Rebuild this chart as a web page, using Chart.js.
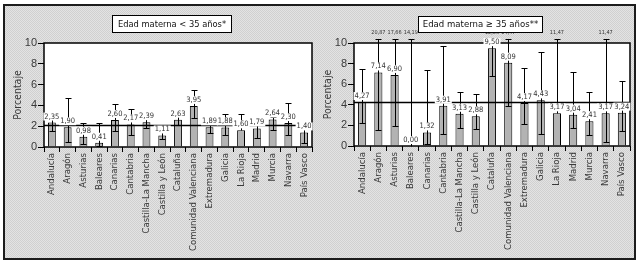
<!DOCTYPE html>
<html>
<head>
<meta charset="utf-8">
<script src="https://cdn.jsdelivr.net/npm/chart.js@4"></script>
<style>
  body { margin: 0; width: 638px; height: 262px; background: #fff; position: relative; overflow: hidden; }
  #frame {
    position: absolute; left: 3px; top: 4px; width: 633px; height: 256px; box-sizing: border-box;
    border: 2px solid #1c1c1c;
    background-color: #d9d9d9;
    background-image: repeating-conic-gradient(#d0d0d0 0 25%, #e3e3e3 0 50%);
    background-size: 2px 2px;
  }
  canvas { position: absolute; top: 0; }
  #left { left: 0; }
  #right { left: 318px; }
</style>
</head>
<body>
<div id="frame"></div>
<canvas id="left" width="318" height="262"></canvas>
<canvas id="right" width="320" height="262"></canvas>
<script>
const regiones = ['Andalucía', 'Aragón', 'Asturias', 'Baleares', 'Canarias', 'Cantabria', 'Castilla-La Mancha',
  'Castilla y León', 'Cataluña', 'Comunidad Valenciana', 'Extremadura', 'Galicia', 'La Rioja', 'Madrid',
  'Murcia', 'Navarra', 'País Vasco'];

// Edad materna < 35 años: porcentaje e intervalo de confianza
const menor35 = [2.35, 1.90, 0.98, 0.41, 2.60, 2.17, 2.39, 1.11, 2.63, 3.95, 1.89, 1.88, 1.60, 1.79, 2.64, 2.30, 1.40];
const menor35Inf = [1.55, 0.48, 0.33, 0.07, 1.52, 1.20, 1.84, 0.74, 2.16, 2.80, 1.35, 1.20, 1.60, 0.87, 1.68, 1.13, 0.39];
const menor35Sup = [3.13, 4.68, 2.26, 2.26, 4.10, 3.61, 2.74, 1.68, 3.29, 5.45, 2.74, 3.13, 3.13, 2.10, 2.90, 4.25, 1.90];
const menor35Media = 2.1;

// Edad materna >= 35 años
const mayor35 = [4.27, 7.14, 6.90, 0.00, 1.32, 3.91, 3.13, 2.88, 9.50, 8.09, 4.17, 4.43, 3.17, 3.04, 2.41, 3.17, 3.24];
const mayor35Inf = [2.28, 1.53, 1.92, 0.00, 0.17, 1.21, 1.70, 1.63, 6.80, 3.88, 2.12, 1.21, 3.17, 1.70, 1.05, 0.39, 1.43];
const mayor35Sup = [7.49, 20.87, 17.66, 14.19, 7.39, 9.67, 5.27, 5.02, 12.06, 14.47, 7.62, 9.12, 11.47, 7.23, 5.27, 11.47, 6.35];
const mayor35Media = 4.23;

const yTicks = [0, 2, 4, 6, 8, 10];

const fmt = v => v.toFixed(2).replace('.', ',');
const narrow = "'DejaVu Sans Condensed', 'Liberation Sans', sans-serif";

const extras = {
  id: 'extras',
  beforeDraw(chart) {
    const a = chart.chartArea, ctx = chart.ctx;
    ctx.save();
    ctx.fillStyle = '#fff';
    ctx.fillRect(a.left, a.top, a.right - a.left, a.bottom - a.top);
    ctx.restore();
  },
  afterDatasetsDraw(chart, args, o) {
    const ctx = chart.ctx, a = chart.chartArea, y = chart.scales.y;
    const meta = chart.getDatasetMeta(0);
    const vals = chart.data.datasets[0].data;
    ctx.save();

    // error bars
    ctx.strokeStyle = '#000';
    ctx.lineWidth = 1;
    meta.data.forEach((bar, i) => {
      const x = Math.round(bar.x) + 0.5;
      const yt = Math.round(y.getPixelForValue(Math.min(o.sup[i], 10.35))) + 0.5;
      const yb = Math.round(y.getPixelForValue(o.inf[i])) + 0.5;
      ctx.beginPath();
      ctx.moveTo(x, yt); ctx.lineTo(x, yb);
      ctx.moveTo(x - 3, yt); ctx.lineTo(x + 3, yt);
      if (o.inf[i] < vals[i]) { ctx.moveTo(x - 3, yb); ctx.lineTo(x + 3, yb); }
      ctx.stroke();
    });

    // reference line
    const yr = Math.round(y.getPixelForValue(o.media)) + 0.5;
    ctx.lineWidth = 1.3;
    ctx.beginPath(); ctx.moveTo(a.left, yr); ctx.lineTo(a.right, yr); ctx.stroke();

    // frame
    ctx.lineWidth = 1.5;
    ctx.strokeRect(a.left, a.top, a.right - a.left, a.bottom - a.top);

    // value labels
    ctx.font = '7.5px ' + narrow;
    ctx.textAlign = 'center';
    ctx.textBaseline = 'middle';
    meta.data.forEach((bar, i) => {
      const t = fmt(vals[i]);
      const w = ctx.measureText(t).width;
      const yc = bar.y - 6;
      ctx.fillStyle = '#fff';
      ctx.fillRect(bar.x - w / 2 - 1, yc - 4, w + 2, 8);
      ctx.fillStyle = '#333';
      ctx.fillText(t, bar.x, yc);
    });

    // upper limits beyond the axis
    ctx.font = '5.5px ' + narrow;
    meta.data.forEach((bar, i) => {
      if (o.sup[i] > 10) ctx.fillText(fmt(o.sup[i]), bar.x, 33);
    });

    // title box
    const b = o.box;
    ctx.fillStyle = '#fff';
    ctx.fillRect(b[0], b[1], b[2], b[3]);
    ctx.lineWidth = 1;
    ctx.strokeStyle = '#000';
    ctx.strokeRect(b[0] + 0.5, b[1] + 0.5, b[2], b[3]);
    ctx.fillStyle = '#111';
    let size = 11;
    ctx.font = size + 'px ' + narrow;
    while (ctx.measureText(o.title).width > b[2] - 8 && size > 6) {
      size -= 0.25;
      ctx.font = size + 'px ' + narrow;
    }
    ctx.fillText(o.title, b[0] + b[2] / 2 + 0.5, b[1] + b[3] / 2 + 1);
    ctx.restore();
  }
};

function makeChart(id, values, inf, sup, media, title, box, yWidth, padRight, bottom, titlePad) {
  return new Chart(document.getElementById(id), {
    type: 'bar',
    data: {
      labels: regiones,
      datasets: [{
        data: values,
        backgroundColor: '#b3b3b3',
        borderColor: '#000',
        borderWidth: 1,
        barPercentage: 0.5,
        categoryPercentage: 1
      }]
    },
    options: {
      responsive: false,
      animation: false,
      layout: { padding: { top: 43, right: padRight, left: 0, bottom: 0 } },
      plugins: {
        legend: { display: false },
        tooltip: { enabled: false },
        extras: { inf: inf, sup: sup, media: media, title: title, box: box }
      },
      scales: {
        x: {
          border: { display: false },
          grid: { drawOnChartArea: false, tickLength: 5, color: '#000', offset: true },
          ticks: {
            autoSkip: false, minRotation: 90, maxRotation: 90, padding: 1,
            color: '#3a3a3a', font: { family: narrow, size: 9.5 }
          },
          afterFit: s => { s.height = 262 - bottom; }
        },
        y: {
          min: 0, max: 10,
          afterBuildTicks: s => { s.ticks = yTicks.map(v => ({ value: v })); },
          border: { display: false },
          grid: { drawOnChartArea: false, tickLength: 6, color: '#000' },
          ticks: { padding: 1, color: '#3a3a3a', font: { family: "'Liberation Sans', Arial, sans-serif", size: 11 } },
          title: {
            display: true, text: 'Porcentaje', color: '#3a3a3a',
            font: { family: narrow, size: 10.5 }, padding: { top: titlePad, bottom: 0 }
          },
          afterFit: s => { s.width = yWidth; }
        }
      }
    },
    plugins: [extras]
  });
}

makeChart('left', menor35, menor35Inf, menor35Sup, menor35Media,
  'Edad materna < 35 años*', [112, 15, 119, 17], 44, 6, 147, 12);
makeChart('right', mayor35, mayor35Inf, mayor35Sup, mayor35Media,
  'Edad materna ≥ 35 años**', [100, 16, 124, 16], 36, 8, 146, 4);
</script>
</body>
</html>
